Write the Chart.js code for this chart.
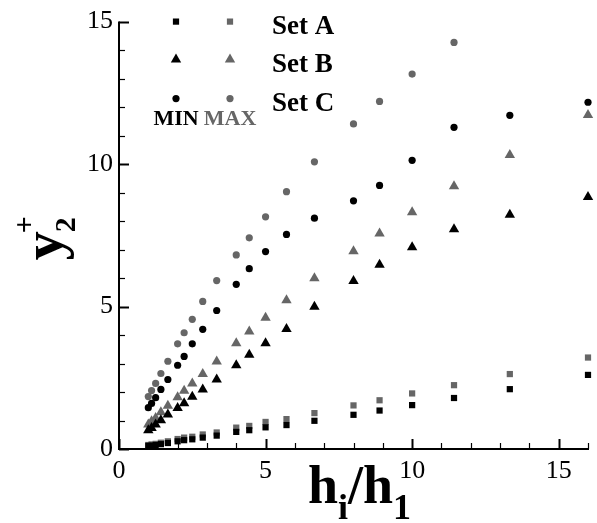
<!DOCTYPE html>
<html>
<head>
<meta charset="utf-8">
<script src="https://cdn.jsdelivr.net/npm/chart.js"></script>
<style>
  html, body { margin: 0; padding: 0; background: #ffffff; }
  #wrap { width: 597px; height: 523px; }
</style>
</head>
<body>
<div id="wrap"><canvas id="c" width="597" height="523"></canvas></div>
<script>
// Grid spacing ratios h_i/h_1
const ratio = [1, 1.111, 1.25, 1.429, 1.667, 2, 2.222, 2.5, 2.857, 3.333, 4,
               4.444, 5, 5.714, 6.667, 8, 8.889, 10, 11.429, 13.333, 16];

// y2+ values, minimum and maximum per set
const setAMin = [0.11, 0.12, 0.14, 0.17, 0.21, 0.27, 0.31, 0.34, 0.40, 0.47, 0.60,
                 0.66, 0.76, 0.84, 0.99, 1.20, 1.35, 1.54, 1.79, 2.10, 2.60];
const setAMax = [0.14, 0.16, 0.18, 0.22, 0.27, 0.35, 0.40, 0.43, 0.51, 0.58, 0.75,
                 0.81, 0.95, 1.05, 1.26, 1.53, 1.71, 1.95, 2.24, 2.63, 3.21];
const setBMin = [0.66, 0.74, 0.86, 1.01, 1.21, 1.44, 1.61, 1.83, 2.09, 2.44, 2.94,
                 3.31, 3.71, 4.21, 4.99, 5.90, 6.47, 7.08, 7.71, 8.22, 8.84];
const setBMax = [0.86, 0.97, 1.09, 1.29, 1.52, 1.82, 2.04, 2.30, 2.63, 3.07, 3.71,
                 4.12, 4.61, 5.22, 5.99, 6.94, 7.56, 8.31, 9.22, 10.32, 11.72];
const setCMin = [1.45, 1.60, 1.80, 2.09, 2.44, 2.94, 3.25, 3.69, 4.20, 4.86, 5.78,
                 6.33, 6.93, 7.53, 8.10, 8.71, 9.25, 10.13, 11.29, 11.71, 12.17];
const setCMax = [1.84, 2.05, 2.30, 2.65, 3.08, 3.69, 4.08, 4.55, 5.18, 5.91, 6.81,
                 7.41, 8.15, 9.03, 10.08, 11.41, 12.20, 13.16, 14.27, null, null];

// Axis tick labels
const xTickValues = [0, 5, 10, 15];
const yTickValues = [0, 5, 10, 15];

// Legend rows and column headers
const setNames = ['Set A', 'Set B', 'Set C'];
const colHeaders = ['MIN', 'MAX'];

const BLACK = '#000000';
const GREY = '#666666';
const SERIF = '"Liberation Serif", "Times New Roman", serif';

function pts(vals) {
  const out = [];
  ratio.forEach((x, i) => { if (vals[i] !== null) out.push({ x: x, y: vals[i] }); });
  return out;
}

function series(label, vals, style, color, r) {
  return {
    label: label,
    data: pts(vals),
    showLine: false,
    pointStyle: style,
    pointRadius: r,
    pointHoverRadius: r,
    pointBackgroundColor: color,
    pointBorderColor: color,
    pointBorderWidth: 0,
    clip: false
  };
}

const markerSpec = [
  { style: 'rect', r: 4.4 },
  { style: 'triangle', r: 6 },
  { style: 'circle', r: 3.6 }
];

const datasets = [
  series('Set A MIN', setAMin, 'rect', BLACK, 4.4),
  series('Set A MAX', setAMax, 'rect', GREY, 4.4),
  series('Set B MIN', setBMin, 'triangle', BLACK, 6),
  series('Set B MAX', setBMax, 'triangle', GREY, 6),
  series('Set C MIN', setCMin, 'circle', BLACK, 3.6),
  series('Set C MAX', setCMax, 'circle', GREY, 3.6)
];

// Axis lines with inward major/minor ticks
const axesPlugin = {
  id: 'axesPlugin',
  beforeDatasetsDraw(chart) {
    const ctx = chart.ctx;
    const a = chart.chartArea;
    const xs = chart.scales.x, ys = chart.scales.y;
    ctx.save();
    ctx.strokeStyle = BLACK;
    ctx.lineCap = 'butt';
    // ticks on x axis
    for (let v = Math.ceil(xs.min); v <= xs.max; v++) {
      const px = Math.round(xs.getPixelForValue(v)) + 0.5;
      const major = v % 5 === 0;
      ctx.lineWidth = major ? 2 : 1.2;
      ctx.beginPath();
      ctx.moveTo(px, a.bottom);
      ctx.lineTo(px, a.bottom - (major ? 10 : 6));
      ctx.stroke();
    }
    // ticks on y axis
    for (let v = Math.ceil(ys.min); v <= ys.max; v++) {
      const py = Math.round(ys.getPixelForValue(v)) + 0.5;
      const major = v % 5 === 0;
      ctx.lineWidth = major ? 2 : 1.2;
      ctx.beginPath();
      ctx.moveTo(a.left, py);
      ctx.lineTo(a.left + (major ? 10 : 6), py);
      ctx.stroke();
    }
    // axis lines
    ctx.lineWidth = 2;
    ctx.beginPath();
    ctx.moveTo(a.left, a.top);
    ctx.lineTo(a.left, a.bottom);
    ctx.lineTo(a.right + 1, a.bottom);
    ctx.stroke();
    ctx.restore();
  }
};

function drawMarker(ctx, style, color, r, x, y) {
  if (Chart.helpers && Chart.helpers.drawPoint) {
    ctx.fillStyle = color;
    ctx.strokeStyle = color;
    ctx.lineWidth = 0;
    Chart.helpers.drawPoint(ctx, { pointStyle: style, radius: r, borderWidth: 0, rotation: 0 }, x, y);
    return;
  }
  ctx.fillStyle = color;
  ctx.beginPath();
  if (style === 'rect') {
    const s = r * Math.SQRT1_2;
    ctx.rect(x - s, y - s, 2 * s, 2 * s);
  } else if (style === 'triangle') {
    ctx.moveTo(x, y - r);
    ctx.lineTo(x + r * Math.sin(2 * Math.PI / 3), y + r / 2);
    ctx.lineTo(x - r * Math.sin(2 * Math.PI / 3), y + r / 2);
    ctx.closePath();
  } else {
    ctx.arc(x, y, r, 0, Math.PI * 2);
  }
  ctx.fill();
}

// Legend block, axis titles
const decorPlugin = {
  id: 'decorPlugin',
  afterDraw(chart) {
    const ctx = chart.ctx;
    const a = chart.chartArea;
    ctx.save();

    // legend
    const colX = [a.left + 57, a.left + 111];
    const rowY = [a.top + 0, a.top + 38, a.top + 77];
    const colors = [BLACK, GREY];
    setNames.forEach((name, i) => {
      const m = markerSpec[i];
      colX.forEach((cx, j) => drawMarker(ctx, m.style, colors[j], m.r, cx, rowY[i]));
      ctx.fillStyle = BLACK;
      ctx.font = 'bold 27px ' + SERIF;
      ctx.textAlign = 'left';
      ctx.textBaseline = 'alphabetic';
      ctx.fillText(name, a.left + 153, rowY[i] + 12);
    });
    ctx.font = 'bold 22px ' + SERIF;
    ctx.textAlign = 'center';
    colHeaders.forEach((h, j) => {
      ctx.fillStyle = colors[j];
      ctx.fillText(h, colX[j], a.top + 103);
    });

    // x axis title: h_i/h_1
    const big = 'bold 54px ' + SERIF;
    const sub = 'bold 36px ' + SERIF;
    const parts = [
      { t: 'h', f: big, dy: 0 },
      { t: 'i', f: sub, dy: 16 },
      { t: '/', f: big, dy: 0 },
      { t: 'h', f: big, dy: 0 },
      { t: '1', f: sub, dy: 16 }
    ];
    let total = 0;
    parts.forEach(p => { ctx.font = p.f; p.w = ctx.measureText(p.t).width; total += p.w; });
    let x = (a.left + a.right) / 2 + 6 - total / 2;
    const base = 503;
    ctx.fillStyle = BLACK;
    ctx.textAlign = 'left';
    ctx.textBaseline = 'alphabetic';
    parts.forEach(p => { ctx.font = p.f; ctx.fillText(p.t, x, base + p.dy); x += p.w; });

    // y axis title: y_2^+
    ctx.save();
    ctx.translate(62, (a.top + a.bottom) / 2 + 3);
    ctx.rotate(-Math.PI / 2);
    ctx.font = 'bold 58px ' + SERIF;
    const yw = ctx.measureText('y').width;
    ctx.font = 'bold 30px ' + SERIF;
    const sw = ctx.measureText('2').width;
    const x0 = -(yw + sw) / 2;
    ctx.font = 'bold 58px ' + SERIF;
    ctx.fillText('y', x0, 0);
    ctx.font = 'bold 30px ' + SERIF;
    ctx.fillText('2', x0 + yw - 1, 13);
    ctx.fillText('+', x0 + yw - 2, -28);
    ctx.restore();

    ctx.restore();
  }
};

new Chart(document.getElementById('c'), {
  type: 'scatter',
  data: { datasets: datasets },
  options: {
    responsive: false,
    animation: false,
    devicePixelRatio: 1,
    layout: { padding: { top: 20, right: 9, left: 0, bottom: 0 } },
    plugins: { legend: { display: false }, tooltip: { enabled: false } },
    scales: {
      x: {
        type: 'linear',
        min: 0,
        max: 16,
        grid: { display: false, drawTicks: false },
        border: { display: false },
        afterBuildTicks: s => { s.ticks = xTickValues.map(v => ({ value: v })); },
        afterFit: s => { s.height = 74; },
        ticks: {
          color: BLACK,
          padding: 7,
          maxRotation: 0,
          font: { family: SERIF, size: 26 }
        }
      },
      y: {
        type: 'linear',
        min: 0,
        max: 15,
        grid: { display: false, drawTicks: false },
        border: { display: false },
        afterBuildTicks: s => { s.ticks = yTickValues.map(v => ({ value: v })); },
        afterFit: s => { s.width = 119; },
        ticks: {
          color: BLACK,
          padding: 6,
          font: { family: SERIF, size: 26 }
        }
      }
    }
  },
  plugins: [axesPlugin, decorPlugin]
});
</script>
</body>
</html>
